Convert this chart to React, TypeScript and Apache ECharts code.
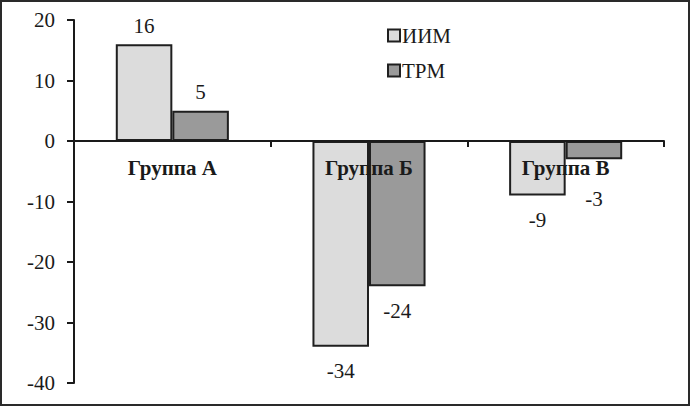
import React, { useEffect, useRef } from "react";
import * as echarts from "echarts";

const categories = ["Группа А", "Группа Б", "Группа В"];
const seriesNames = ["ИИМ", "ТРМ"];
const iimValues = [16, -34, -9];
const trmValues = [5, -24, -3];
const yTicks = { min: -40, max: 20, interval: 10 };

const FONT = "Liberation Serif";

const GRID_TOP = 20;
const GRID_BOTTOM = 23;
const H = 406;

function buildData(values: number[], extraDist: number[]) {
  return values.map((v, i) => ({
    value: v,
    label: {
      position: v >= 0 ? "top" : "bottom",
      distance: v >= 0 ? 8 : 14 + extraDist[i],
    },
  }));
}

export default function App() {
  const ref = useRef<HTMLDivElement>(null);
  useEffect(() => {
    document.body.style.margin = "0";
    if (!ref.current) return;
    const chart = echarts.init(ref.current, undefined, { renderer: "svg" });
    const labelStyle = {
      show: true,
      color: "#1a1a1a",
      fontFamily: FONT,
      fontSize: 21,
    };
    // place the category axis at value 0
    const plotH = H - GRID_TOP - GRID_BOTTOM;
    const zeroFromBottom = (plotH * (0 - yTicks.min)) / (yTicks.max - yTicks.min);
    chart.setOption({
      animation: false,
      backgroundColor: "#ffffff",
      grid: { left: 74, right: 26, top: GRID_TOP, bottom: GRID_BOTTOM, outerBoundsMode: "none", containLabel: false },
      legend: {
        orient: "vertical",
        left: 382,
        top: 20,
        itemWidth: 12,
        itemHeight: 12,
        itemGap: 14,
        icon: "rect",
        itemStyle: { borderWidth: 2, borderColor: "#1f1f1f" },
        textStyle: { fontFamily: FONT, fontSize: 21, color: "#1a1a1a", padding: [0, 0, 0, -3] },
        data: seriesNames,
      },
      xAxis: {
        type: "category",
        data: categories,
        z: 10,
        offset: -zeroFromBottom,
        axisLine: { onZero: false, lineStyle: { color: "#1a1a1a", width: 2 } },
        axisTick: { show: true, length: 6, lineStyle: { color: "#1a1a1a", width: 2 } },
        axisLabel: {
          interval: 0,
          margin: 16,
          fontFamily: FONT,
          fontWeight: "bold",
          fontSize: 21,
          color: "#1a1a1a",
        },
      },
      yAxis: {
        type: "value",
        min: yTicks.min,
        max: yTicks.max,
        interval: yTicks.interval,
        axisLine: { show: true, lineStyle: { color: "#1a1a1a", width: 2 } },
        axisTick: { show: true, length: 7, lineStyle: { color: "#1a1a1a", width: 2 } },
        splitLine: { show: false },
        axisLabel: {
          margin: 19,
          fontFamily: FONT,
          fontSize: 21,
          color: "#1a1a1a",
        },
      },
      series: [
        {
          name: seriesNames[0],
          type: "bar",
          barGap: "0%",
          barCategoryGap: "42.5%",
          itemStyle: { color: "#dcdcdc", borderColor: "#1f1f1f", borderWidth: 2 },
          label: labelStyle,
          data: buildData(iimValues, [0, 0, 0]),
        },
        {
          name: seriesNames[1],
          type: "bar",
          barGap: "0%",
          barCategoryGap: "42.5%",
          itemStyle: { color: "#9a9a9a", borderColor: "#1f1f1f", borderWidth: 2 },
          label: labelStyle,
          data: buildData(trmValues, [0, 0, 15]),
        },
      ],
    });
    return () => chart.dispose();
  }, []);
  return (
    <div style={{ width: 690, height: 406, position: "relative", background: "#fff" }}>
      <div ref={ref} style={{ position: "absolute", left: 0, top: 0, width: 690, height: 406 }} />
      <div
        style={{
          position: "absolute",
          left: 0,
          top: 0,
          width: 690,
          height: 406,
          border: "2px solid #2a2a2a",
          boxSizing: "border-box",
          pointerEvents: "none",
        }}
      />
    </div>
  );
}
